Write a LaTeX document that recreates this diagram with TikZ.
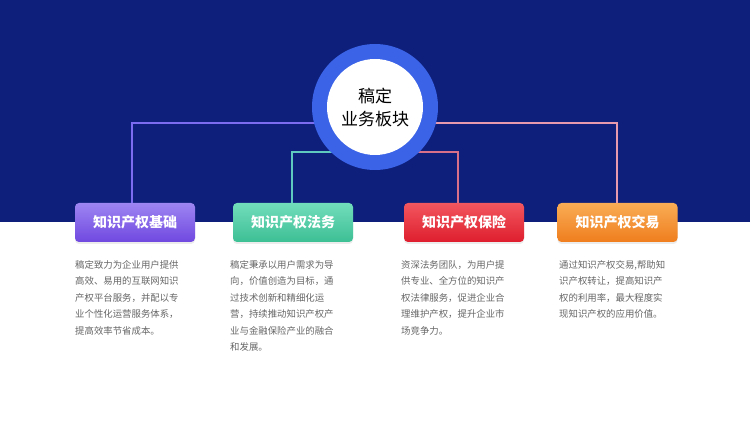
\documentclass[tikz,border=0pt]{standalone}
\usepackage{fontspec}
\setmainfont{Noto Sans CJK SC}
\usetikzlibrary{shadows}
\definecolor{bandblue}{HTML}{0D1F7A}
\definecolor{ringblue}{HTML}{3A63E8}
\definecolor{bodygray}{HTML}{666666}
\definecolor{pA}{HTML}{9D85F2}\definecolor{pB}{HTML}{7048E0}
\definecolor{gA}{HTML}{72DDBB}\definecolor{gB}{HTML}{3DBF94}
\definecolor{rA}{HTML}{F2565F}\definecolor{rB}{HTML}{DE1E2E}
\definecolor{oA}{HTML}{F9AC55}\definecolor{oB}{HTML}{EF7E1E}
\definecolor{ln1}{HTML}{7B6CF0}\definecolor{ln2}{HTML}{5FC9C0}
\definecolor{ln3}{HTML}{D9708A}\definecolor{ln4}{HTML}{E79AAE}
\tikzset{
  catbox/.style={rounded corners=4pt, minimum width=120pt, minimum height=39pt, text=white, font=\bfseries\fontsize{14}{14}\selectfont, inner sep=0pt, drop shadow={opacity=0.15, shadow xshift=0pt, shadow yshift=-2pt}},
  bodytext/.style={anchor=north west, align=left, text=bodygray, font=\fontsize{9.4}{16.5}\selectfont, inner sep=0pt},
  conn/.style={line width=1.2pt}
}
\begin{document}
\begin{tikzpicture}[x=1pt,y=-1pt]
\useasboundingbox (0,0) rectangle (750,422);
\fill[white] (0,0) rectangle (750,422);
\fill[bandblue] (0,0) rectangle (750,222);
\coordinate (l1) at (132,123);
\coordinate (r1) at (617,123);
\coordinate (l2) at (292,152);
\coordinate (r2) at (458,152);
\node[catbox, top color=pA, bottom color=pB] (b1) at (135,222.5) {知识产权基础};
\node[catbox, top color=gA, bottom color=gB] (b2) at (293,222.5) {知识产权法务};
\node[catbox, top color=rA, bottom color=rB] (b3) at (464,222.5) {知识产权保险};
\node[catbox, top color=oA, bottom color=oB] (b4) at (617.5,222.5) {知识产权交易};
\draw[conn, ln1] (375,123) -- (l1) -- (l1 |- b1.north);
\draw[conn, ln4] (375,123) -- (r1) -- (r1 |- b4.north);
\draw[conn, ln2] (375,152) -- (l2) -- (l2 |- b2.north);
\draw[conn, ln3] (375,152) -- (r2) -- (r2 |- b3.north);
\fill[ringblue] (375,107) circle (63);
\node[circle, fill=white, minimum size=96pt, inner sep=0pt, align=center, font=\fontsize{17}{23}\selectfont, text=black] (c) at (375,107) {稿定\\业务板块};
\node[bodytext] (t1) at (75,260) {稿定致力为企业用户提供\\高效、易用的互联网知识\\产权平台服务，并配以专\\业个性化运营服务体系，\\提高效率节省成本。};
\node[bodytext] (t2) at (230,260) {稿定秉承以用户需求为导\\向，价值创造为目标，通\\过技术创新和精细化运\\营，持续推动知识产权产\\业与金融保险产业的融合\\和发展。};
\node[bodytext] (t3) at (401,260) {资深法务团队，为用户提\\供专业、全方位的知识产\\权法律服务，促进企业合\\理维护产权，提升企业市\\场竞争力。};
\node[bodytext] (t4) at (559,260) {通过知识产权交易,帮助知\\识产权转让，提高知识产\\权的利用率，最大程度实\\现知识产权的应用价值。};
\end{tikzpicture}
\end{document}
